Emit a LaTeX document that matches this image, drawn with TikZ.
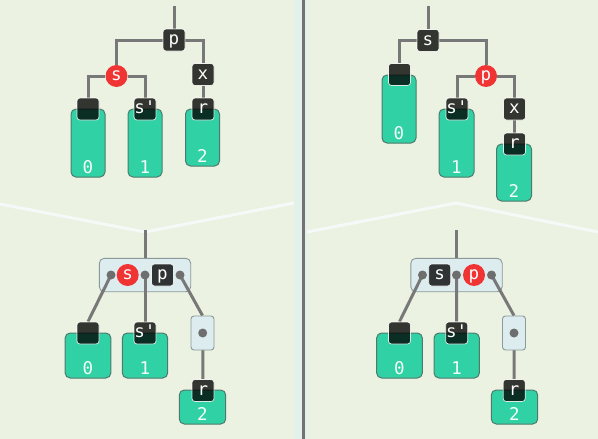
\documentclass[tikz,border=0pt]{standalone}
\usepackage{fontspec}
\newfontfamily\monofnt{DejaVu Sans Mono}
\pgfdeclarelayer{back}
\pgfdeclarelayer{mid}
\pgfsetlayers{back,mid,main}
\definecolor{bgc}{HTML}{ECF2E2}
\definecolor{linec}{HTML}{787878}
\definecolor{dotc}{HTML}{6E6E6E}
\definecolor{greenc}{HTML}{30D2A5}
\definecolor{greenb}{HTML}{4E7A6C}
\definecolor{redc}{HTML}{F03434}
\definecolor{contc}{HTML}{DDECEE}
\definecolor{contb}{HTML}{8A9999}
\definecolor{chevc}{HTML}{F3FAF7}
\definecolor{glowc}{HTML}{E4F0EA}
\definecolor{sepc}{HTML}{727272}
\begin{document}
\begin{tikzpicture}[x=1pt,y=-1pt,
  lbl/.style={font=\monofnt\fontsize{17.5}{17.5}\selectfont, text=white},
  dbox/.style={lbl, rounded corners=3pt, minimum width=22pt, minimum height=22pt,
    inner sep=0pt, text height=9.5pt, text depth=0pt,
    fill=black, fill opacity=0.78, text opacity=1, draw=white, draw opacity=0.85, line width=0.7pt},
  rcirc/.style={lbl, circle, fill=redc, minimum size=22pt, inner sep=0pt,
    text height=9.5pt, text depth=0pt},
  gbox/.style={rounded corners=5pt, fill=greenc, draw=greenb, line width=1pt, inner sep=0pt},
  numl/.style={lbl, anchor=base, yshift=4.5pt, inner sep=0pt, text=white!95!greenc},
  cont/.style={rounded corners=5pt, fill=contc, draw=contb, line width=0.9pt, inner sep=0pt},
  sbox/.style={rounded corners=3pt, fill=contc, draw=contb, line width=0.9pt, inner sep=0pt,
    minimum width=23pt, minimum height=34pt},
  pdot/.style={circle, fill=dotc, inner sep=0pt, minimum size=9pt},
  conn/.style={draw=linec, line width=3pt},
]
\useasboundingbox (0,0) rectangle (598,439);
\begin{pgfonlayer}{back}
  \fill[bgc] (0,0) rectangle (598,439);
  \draw[chevc, line width=3pt] (0,204) -- (145,232) -- (294,203);
  \draw[chevc, line width=3pt] (307,232) -- (456,203) -- (598,232);
  \fill[glowc] (294,0) rectangle (307,439);
  \draw[sepc, line width=3pt] (303.5,0) -- (303.5,439);
\end{pgfonlayer}

% ---------- top-left ----------
\node[gbox, minimum width=34pt, minimum height=68pt, label={[numl]south:0}] (gA0) at (88,143) {};
\node[gbox, minimum width=34pt, minimum height=68pt, label={[numl]south:1}] (gA1) at (145,143) {};
\node[gbox, minimum width=34pt, minimum height=57pt, label={[numl]south:2}] (gA2) at (202.5,137.5) {};
\node[dbox] (pA) at (174,40) {p};
\node[dbox] (xA) at (203,74.5) {x};
\node[dbox] (dA0) at (88,109) {};
\node[dbox] (spA) at (145,109) {s'};
\node[dbox] (rA) at (203,109) {r};
\node[rcirc] (sA) at (116.5,76) {s};
\coordinate (tA) at (174,6);
\begin{pgfonlayer}{mid}
  \draw[conn] (tA) -- (pA);
  \draw[conn] (pA) -| (sA);
  \draw[conn] (pA) -| (xA);
  \draw[conn] (sA) -| (dA0);
  \draw[conn] (sA) -| (spA);
  \draw[conn] (xA) -- (rA);
\end{pgfonlayer}

% ---------- top-right ----------
\node[gbox, minimum width=34pt, minimum height=68pt, label={[numl]south:0}] (gB0) at (399,109) {};
\node[gbox, minimum width=35pt, minimum height=68pt, label={[numl]south:1}] (gB1) at (456.5,143) {};
\node[gbox, minimum width=35pt, minimum height=57pt, label={[numl]south:2}] (gB2) at (514,172.5) {};
\node[dbox] (sB) at (428,40.5) {s};
\node[dbox] (dB0) at (399.5,74.5) {};
\node[dbox] (spB) at (457,109) {s'};
\node[dbox] (xB) at (514.5,109) {x};
\node[dbox] (rB) at (514.5,144) {r};
\node[rcirc] (pB) at (486,76) {p};
\coordinate (tB) at (428,6);
\begin{pgfonlayer}{mid}
  \draw[conn] (tB) -- (sB);
  \draw[conn] (sB) -| (dB0);
  \draw[conn] (sB) -| (pB);
  \draw[conn] (pB) -| (spB);
  \draw[conn] (pB) -| (xB);
  \draw[conn] (xB) -- (rB);
\end{pgfonlayer}

% ---------- bottom-left ----------
\begin{pgfonlayer}{back}
  \node[cont, minimum width=91.4pt, minimum height=33.4pt] (cC) at (145,275) {};
\end{pgfonlayer}
\node[pdot] (c1C) at (111,275) {};
\node[pdot] (c2C) at (145,275) {};
\node[pdot] (c3C) at (180,275) {};
\node[rcirc] (sC) at (127.7,275) {s};
\node[dbox] (pC) at (162.5,275) {p};
\node[gbox, minimum width=45.7pt, minimum height=45pt, label={[numl]south:0}] (gC0) at (88,355.5) {};
\node[gbox, minimum width=45.4pt, minimum height=45pt, label={[numl]south:1}] (gC1) at (145,355.5) {};
\node[gbox, minimum width=46.4pt, minimum height=34pt, label={[numl]south:2}] (gC2) at (202.5,407) {};
\node[dbox] (dC0) at (88,333) {};
\node[dbox] (spC) at (145,333) {s'};
\node[sbox] (LC) at (202.5,333) {};
\node[pdot] (lC) at (202.7,333) {};
\node[dbox] (rC) at (203,390.5) {r};
\coordinate (tC) at (145,230);
\begin{pgfonlayer}{mid}
  \draw[conn] (tC) -- (cC);
  \draw[conn] (c1C.center) -- (dC0.north);
  \draw[conn] (c2C.center) -- (spC.north);
  \draw[conn] (c3C.center) -- (LC.north);
  \draw[conn] (lC.center) -- (rC.north);
\end{pgfonlayer}

% ---------- bottom-right ----------
\begin{pgfonlayer}{back}
  \node[cont, minimum width=91.4pt, minimum height=33.4pt] (cD) at (456.5,275) {};
\end{pgfonlayer}
\node[pdot] (c1D) at (422.5,275) {};
\node[pdot] (c2D) at (456.5,275) {};
\node[pdot] (c3D) at (491.5,275) {};
\node[dbox] (sD) at (439.7,275) {s};
\node[rcirc] (pD) at (474,275) {p};
\node[gbox, minimum width=45.7pt, minimum height=45pt, label={[numl]south:0}] (gD0) at (399.5,355.5) {};
\node[gbox, minimum width=45.4pt, minimum height=45pt, label={[numl]south:1}] (gD1) at (456.7,355.5) {};
\node[gbox, minimum width=46.4pt, minimum height=34pt, label={[numl]south:2}] (gD2) at (514.5,407) {};
\node[dbox] (dD0) at (399.5,333) {};
\node[dbox] (spD) at (456.7,333) {s'};
\node[sbox] (LD) at (514,333) {};
\node[pdot] (lD) at (514,333) {};
\node[dbox] (rD) at (514.2,390.5) {r};
\coordinate (tD) at (456.5,230);
\begin{pgfonlayer}{mid}
  \draw[conn] (tD) -- (cD);
  \draw[conn] (c1D.center) -- (dD0.north);
  \draw[conn] (c2D.center) -- (spD.north);
  \draw[conn] (c3D.center) -- (LD.north);
  \draw[conn] (lD.center) -- (rD.north);
\end{pgfonlayer}
\end{tikzpicture}
\end{document}
